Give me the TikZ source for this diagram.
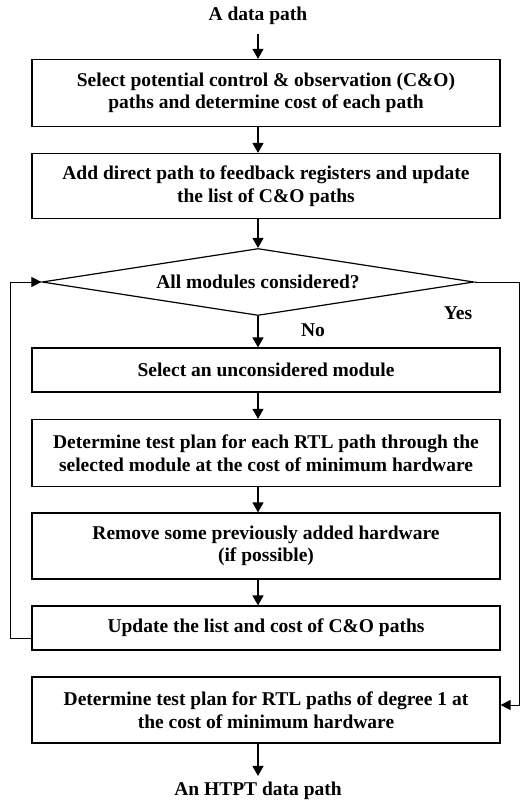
\documentclass[tikz,border=0pt]{standalone}
\usepackage{fontspec}
\setmainfont{Liberation Serif}
\usetikzlibrary{shapes.geometric,arrows.meta}
\begin{document}
\begin{tikzpicture}[x=1pt,y=-1pt,
  every node/.style={font=\bfseries\fontsize{19.5}{22.5}\selectfont},
  stepbox/.style={draw,line width=1.2pt,minimum width=468pt,align=center,inner sep=0pt},
  decide/.style={draw,line width=1.2pt,diamond,aspect=6.45,inner sep=0pt,minimum width=432pt,minimum height=67pt},
  flow/.style={line width=1.2pt,-{Triangle[length=10pt,width=11pt]}},
  loopline/.style={line width=1pt,-{Triangle[length=10pt,width=10pt]}},
  lbl/.style={inner sep=0pt}]
\useasboundingbox (0,0) rectangle (521,801);
% main column of the flow
\node[lbl] (start) at (258,16) {A data path};
\node[stepbox,minimum height=67pt] (s1) at (266,93)
  {Select potential control \& observation (C\&O)\\paths and determine cost of each path};
\node[stepbox,minimum height=65pt] (s2) at (266,186)
  {Add direct path to feedback registers and update\\the list of C\&O paths};
\node[decide] (d) at (258,282) {All modules considered?};
\node[stepbox,minimum height=44pt] (s3) at (266,370) {Select an unconsidered module};
\node[stepbox,minimum height=67pt] (s4) at (266,453)
  {Determine test plan for each RTL path through the\\selected module at the cost of minimum hardware};
\node[stepbox,minimum height=66pt] (s5) at (266,546)
  {Remove some previously added hardware\\(if possible)};
\node[stepbox,minimum height=44pt] (s6) at (266,628) {Update the list and cost of C\&O paths};
\node[stepbox,minimum height=66pt] (s7) at (266,710)
  {Determine test plan for RTL paths of degree 1 at\\the cost of minimum hardware};
\node[lbl] (stop) at (258,791) {An HTPT data path};
\node[lbl] (no) at (313,330) {No};
\node[lbl] (yes) at (458,313) {Yes};
% corners of the loop-back and exit lines
\coordinate (lt) at (10,282);
\coordinate (lb) at (10,638);
\coordinate (rt) at (519,282);
\coordinate (rb) at (519,705);

\draw[flow] ([yshift=-9pt]start.south) -- (s1.north -| start);
\draw[flow] (s1.south -| d) -- (s2.north -| d);
\draw[flow] (s2.south -| d) -- (d.north);
\draw[flow] (d.south) -- (s3.north -| d);
\draw[flow] (s3.south -| d) -- (s4.north -| d);
\draw[flow] (s4.south -| d) -- (s5.north -| d);
\draw[flow] (s5.south -| d) -- (s6.north -| d);
\draw[flow,shorten >=6pt] (s7.south -| stop) -- (stop.north);
\draw[loopline] (s6.west |- lb) -- (lb) -- (lt) -- (d.west);
\draw[loopline] (d.east) -- (rt) -- (rb) -- (s7.east |- rb);
\end{tikzpicture}
\end{document}
